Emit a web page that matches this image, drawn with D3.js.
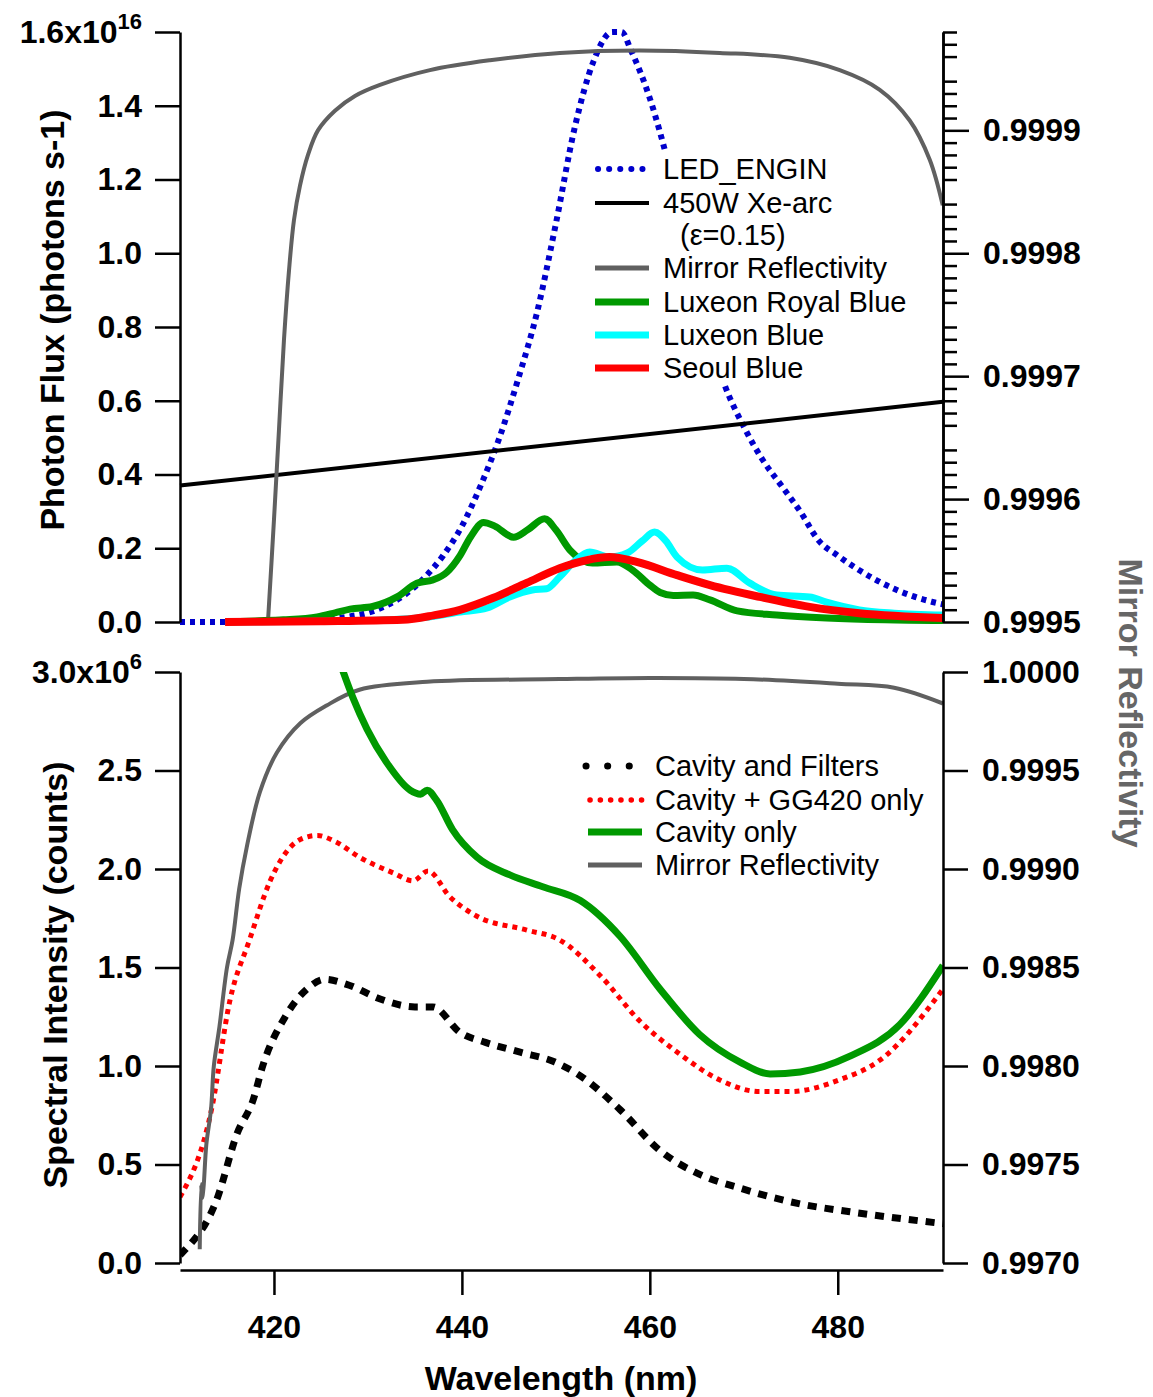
<!DOCTYPE html>
<html>
<head>
<meta charset="utf-8">
<script src="https://cdn.jsdelivr.net/npm/d3@7"></script>
<style>
  body { margin: 0; background: #fff; }
  svg text { font-family: "Liberation Sans", Arial, sans-serif; }
</style>
</head>
<body>
<div id="chart"></div>
<script>
// ---- top panel: photon flux (x1e16) ----
const ledWl   = [410, 420, 425, 428, 430, 432, 434, 436, 438, 440, 442, 444, 446, 448, 450, 452, 454, 456, 457, 458, 460, 462, 464, 466, 468, 470, 472, 474, 476, 478, 480, 482, 484, 486, 488, 490, 491.2];
const ledFlux = [0, 0, 0.005, 0.015, 0.025, 0.045, 0.075, 0.12, 0.18, 0.26, 0.37, 0.5, 0.66, 0.84, 1.08, 1.34, 1.52, 1.6, 1.6, 1.55, 1.42, 1.24, 1.02, 0.8, 0.64, 0.53, 0.44, 0.37, 0.3, 0.22, 0.18, 0.145, 0.115, 0.09, 0.07, 0.055, 0.048];

const xeWl   = [410, 491.2];
const xeFlux = [0.37, 0.597];

const mirTopWl = [419.36, 420.0, 420.53, 421.06, 421.6, 422.13, 422.77, 423.62, 424.68, 426.49, 428.62, 431.28, 436.6, 442.98, 450.43, 458.94, 467.45, 474.89, 480.21, 484.47, 487.66, 489.79, 491.17];
const mirTopR  = [0.9995, 0.999583, 0.999656, 0.999729, 0.999786, 0.999827, 0.999855, 0.99988, 0.9999, 0.999916, 0.999928, 0.999937, 0.999949, 0.999957, 0.999963, 0.999965, 0.999963, 0.999959, 0.999949, 0.999933, 0.999908, 0.999876, 0.999839];

const royalWl   = [414.8, 418, 421, 424.6, 426.5, 428.1, 430.5, 433.1, 435.2, 436.9, 438.4, 439.8, 440.9, 442.3, 443.5, 445.5, 447, 448.8, 450, 451.5, 453.9, 456.5, 458.2, 460, 461.1, 462.5, 464.6, 466.4, 469.3, 473.5, 478.8, 485, 491.2];
const royalFlux = [0, 0.003, 0.006, 0.014, 0.025, 0.035, 0.042, 0.068, 0.105, 0.114, 0.135, 0.18, 0.23, 0.27, 0.26, 0.23, 0.25, 0.28, 0.25, 0.195, 0.16, 0.163, 0.14, 0.1, 0.08, 0.072, 0.073, 0.06, 0.03, 0.019, 0.011, 0.006, 0.004];

const luxWl   = [414.8, 425, 432, 436, 439.8, 442.7, 445.1, 447.5, 449, 450.4, 452, 453.6, 455.7, 457.6, 459.2, 460.5, 461.7, 462.9, 465.6, 468.2, 470.6, 473.5, 477, 478.8, 482.3, 486, 491.2];
const luxFlux = [0, 0.002, 0.006, 0.012, 0.027, 0.038, 0.068, 0.087, 0.09, 0.122, 0.165, 0.19, 0.176, 0.187, 0.22, 0.244, 0.22, 0.176, 0.141, 0.146, 0.106, 0.073, 0.068, 0.054, 0.033, 0.024, 0.019];

const seoulWl   = [414.8, 425, 433.7, 437, 439.8, 443.3, 446.9, 450.4, 453.3, 455.7, 458.6, 462.9, 466.4, 471.7, 477, 482.3, 491.2];
const seoulFlux = [0, 0.002, 0.006, 0.018, 0.033, 0.065, 0.106, 0.146, 0.168, 0.176, 0.163, 0.127, 0.1, 0.068, 0.041, 0.024, 0.011];

// ---- bottom panel: spectral intensity (x1e6) ----
const filtWl  = [410, 410.2, 413.9, 416.1, 417.8, 418.8, 421.2, 423.5, 425.4, 428, 431.3, 435, 436.9, 439.8, 442.5, 446.2, 449.9, 452.6, 456.8, 461.1, 465.3, 469.6, 476, 481.3, 491.2];
const filtCnt = [0.04, 0.05, 0.32, 0.66, 0.83, 1.0, 1.25, 1.39, 1.44, 1.41, 1.34, 1.3, 1.3, 1.17, 1.12, 1.07, 1.02, 0.95, 0.78, 0.57, 0.45, 0.38, 0.3, 0.26, 0.2];

const gg420Wl  = [410, 413.4, 415.3, 417.4, 419.6, 422.8, 424.6, 426.5, 429.1, 432.7, 434.8, 436.4, 438.7, 441.6, 446.9, 450.4, 454.7, 458.9, 463.2, 467.4, 471.7, 474.9, 480.2, 484.5, 491.2];
const gg420Cnt = [0.335, 0.79, 1.33, 1.64, 1.94, 2.15, 2.17, 2.14, 2.06, 1.98, 1.94, 1.99, 1.86, 1.76, 1.69, 1.64, 1.46, 1.23, 1.06, 0.93, 0.87, 0.87, 0.93, 1.03, 1.39];

const cavWl  = [427.0, 428.4, 429.9, 432, 434.5, 435.6, 436.3, 437.3, 439, 441.6, 445.1, 448.6, 452.6, 456.8, 461.1, 465.3, 469.6, 472.8, 476, 481.3, 486.6, 491.2];
const cavCnt = [3.05, 2.87, 2.71, 2.54, 2.4, 2.38, 2.4, 2.35, 2.2, 2.06, 1.97, 1.91, 1.84, 1.66, 1.39, 1.16, 1.02, 0.96, 0.97, 1.05, 1.21, 1.51];

const mirBotWl = [412.1, 412.25, 412.35, 412.5, 412.8, 413.3, 413.6, 414.2, 415.0, 415.6, 416.3, 417.1, 418.5, 420.3, 422.8, 425.6, 429.1, 436.3, 450.4, 460, 470, 480, 486, 491.2];
const mirBotR  = [0.99707, 0.9974, 0.99733, 0.99738, 0.9976, 0.99778, 0.998, 0.9982, 0.9985, 0.99864, 0.9989, 0.99911, 0.99939, 0.99959, 0.99974, 0.99983, 0.99991, 0.99995, 0.999964, 0.99997, 0.999965, 0.99994, 0.99992, 0.99984];

const xTicks = [420, 440, 460, 480];
const topLeftTicks = [0, 0.2, 0.4, 0.6, 0.8, 1.0, 1.2, 1.4, 1.6];
const botLeftTicks = [0, 0.5, 1.0, 1.5, 2.0, 2.5, 3.0];
const botRightTicks = [0.997, 0.9975, 0.998, 0.9985, 0.999, 0.9995, 1.0];

const topLegend = ["LED_ENGIN", "450W Xe-arc", "Mirror Reflectivity", "Luxeon Royal Blue", "Luxeon Blue", "Seoul Blue"];
const botLegend = ["Cavity and Filters", "Cavity + GG420 only", "Cavity only", "Mirror Reflectivity"];

const svg = d3.select("#chart").append("svg")
    .attr("width", 1153).attr("height", 1397);

const x = d3.scaleLinear().domain([410, 491.2]).range([180, 943]);
const yTop = d3.scaleLinear().domain([0, 1.6]).range([622, 32]);
const yTopR = d3.scaleLinear().domain([0.9995, 0.99998]).range([622, 32]);
const yBot = d3.scaleLinear().domain([0, 3]).range([1263, 672]);
const yBotR = d3.scaleLinear().domain([0.997, 1.0]).range([1263, 672]);

const zip = (a, b) => a.map((v, i) => [v, b[i]]);

svg.append("clipPath").attr("id", "clipBot")
    .append("rect").attr("x", 180).attr("y", 672).attr("width", 763).attr("height", 591);

const GRAY = "#606060", GREEN = "#009900", BLUE = "#0000cc";

function drawLine(g, data, ys, style) {
    const line = d3.line().x(d => x(d[0])).y(d => ys(d[1]))
        .curve(style.smooth ? d3.curveCatmullRom.alpha(0.5) : d3.curveMonotoneX);
    g.append("path").datum(data)
        .attr("d", line)
        .attr("fill", "none")
        .attr("stroke", style.color)
        .attr("stroke-width", style.width)
        .attr("stroke-dasharray", style.dash || null)
        .attr("stroke-linejoin", "round");
}

// top panel lines
const gTop = svg.append("g");
drawLine(gTop, zip(ledWl, ledFlux), yTop, { color: BLUE, width: 6, dash: "5,5" });
drawLine(gTop, zip(xeWl, xeFlux), yTop, { color: "#000", width: 4 });
drawLine(gTop, zip(mirTopWl, mirTopR), yTopR, { color: GRAY, width: 4, smooth: true });
drawLine(gTop, zip(royalWl, royalFlux), yTop, { color: GREEN, width: 7 });
drawLine(gTop, zip(luxWl, luxFlux), yTop, { color: "#00ffff", width: 7 });
drawLine(gTop, zip(seoulWl, seoulFlux), yTop, { color: "#ff0000", width: 8 });

// bottom panel lines
const gBot = svg.append("g").attr("clip-path", "url(#clipBot)");
drawLine(gBot, zip(filtWl, filtCnt), yBot, { color: "#000", width: 7, dash: "9,8" });
drawLine(gBot, zip(gg420Wl, gg420Cnt), yBot, { color: "#ff0000", width: 5, dash: "5,5" });
drawLine(gBot, zip(mirBotWl, mirBotR), yBotR, { color: GRAY, width: 4, smooth: true });
drawLine(gBot, zip(cavWl, cavCnt), yBot, { color: GREEN, width: 7 });

// axes
function styleAxis(g) {
    g.selectAll("path.domain").attr("stroke-width", 2.5);
    g.selectAll(".tick line").attr("stroke-width", 2.5);
    g.selectAll("text").attr("font-size", 32).attr("font-weight", "bold").attr("fill", "#000");
}

function addSuper(g, value, base, sup) {
    g.selectAll(".tick").filter(d => Math.abs(d - value) < 1e-9).select("text")
        .text(null)
        .call(t => {
            t.append("tspan").text(base);
            t.append("tspan").attr("font-size", 22).attr("dy", -14).text(sup);
        });
}

const fmt1 = d3.format(".1f");

const axTopL = svg.append("g").attr("transform", "translate(180,0)")
    .call(d3.axisLeft(yTop).tickValues(topLeftTicks).tickSize(25).tickSizeOuter(0).tickPadding(13).tickFormat(fmt1));
styleAxis(axTopL);
addSuper(axTopL, 1.6, "1.6x10", "16");

const axBotL = svg.append("g").attr("transform", "translate(180,0)")
    .call(d3.axisLeft(yBot).tickValues(botLeftTicks).tickSize(25).tickSizeOuter(0).tickPadding(13).tickFormat(fmt1));
styleAxis(axBotL);
addSuper(axBotL, 3.0, "3.0x10", "6");

// right top axis with minor ticks
const minorVals = d3.range(0, 49).map(i => (99950 + i) / 100000);
const axTopRMinor = svg.append("g").attr("transform", "translate(943,0)")
    .call(d3.axisRight(yTopR).tickValues(minorVals.filter((v, i) => i % 5 !== 0)).tickSize(14).tickSizeOuter(0).tickFormat(""));
styleAxis(axTopRMinor);
axTopRMinor.selectAll(".tick").filter((d, i) => Math.round(d * 100000) % 10 === 5)
    .select("line").attr("x2", 20);
const axTopR = svg.append("g").attr("transform", "translate(943,0)")
    .call(d3.axisRight(yTopR).tickValues([0.9995, 0.9996, 0.9997, 0.9998, 0.9999]).tickSize(26).tickSizeOuter(0).tickPadding(14).tickFormat(d3.format(".4f")));
styleAxis(axTopR);

const axBotR = svg.append("g").attr("transform", "translate(943,0)")
    .call(d3.axisRight(yBotR).tickValues(botRightTicks).tickSize(25).tickSizeOuter(0).tickPadding(14).tickFormat(d3.format(".4f")));
styleAxis(axBotR);

const axX = svg.append("g").attr("transform", "translate(0,1270)")
    .call(d3.axisBottom(x).tickValues(xTicks).tickSize(25).tickSizeOuter(0).tickPadding(20).tickFormat(d3.format("d")));
styleAxis(axX);

// axis titles
svg.append("text").attr("transform", "translate(52,320) rotate(-90)")
    .attr("text-anchor", "middle").attr("dy", "0.35em")
    .attr("font-size", 34).attr("font-weight", "bold")
    .text("Photon Flux (photons s-1)");
svg.append("text").attr("transform", "translate(55,975) rotate(-90)")
    .attr("text-anchor", "middle").attr("dy", "0.35em")
    .attr("font-size", 34).attr("font-weight", "bold")
    .text("Spectral Intensity (counts)");
svg.append("text").attr("transform", "translate(1131,703) rotate(90)")
    .attr("text-anchor", "middle").attr("dy", "0.35em")
    .attr("font-size", 34).attr("font-weight", "bold").attr("fill", "#666")
    .text("Mirror Reflectivity");
svg.append("text").attr("x", 561).attr("y", 1390)
    .attr("text-anchor", "middle")
    .attr("font-size", 34).attr("font-weight", "bold")
    .text("Wavelength (nm)");

// legends (white box hides the lines behind it)
const topStyles = [
    { color: BLUE, width: 6, dash: "0.1,11", cap: "round" },
    { color: "#000", width: 4 },
    { color: GRAY, width: 5 },
    { color: GREEN, width: 7 },
    { color: "#00ffff", width: 7 },
    { color: "#ff0000", width: 7 }
];
const topRows = [169, 203, 268, 302, 335, 368];
const legTop = svg.append("g");
legTop.append("rect").attr("x", 586).attr("y", 150).attr("width", 330).attr("height", 235).attr("fill", "#fff");
topLegend.forEach((name, i) => {
    const s = topStyles[i];
    legTop.append("line").attr("x1", i === 0 ? 598 : 595).attr("x2", 649)
        .attr("y1", topRows[i]).attr("y2", topRows[i])
        .attr("stroke", s.color).attr("stroke-width", s.width)
        .attr("stroke-dasharray", s.dash || null).attr("stroke-linecap", s.cap || "butt");
    legTop.append("text").attr("x", 663).attr("y", topRows[i]).attr("dy", "0.35em")
        .attr("font-size", 29).text(name);
});
legTop.append("text").attr("x", 680).attr("y", 235).attr("dy", "0.35em")
    .attr("font-size", 29).text("(\u03b5=0.15)");

const botStyles = [
    { color: "#000", width: 7, dash: "0.1,21.5", cap: "round", x1: 586 },
    { color: "#ff0000", width: 5.5, dash: "0.1,10.2", cap: "round", x1: 590 },
    { color: GREEN, width: 7, x1: 588 },
    { color: GRAY, width: 5, x1: 588 }
];
const botRows = [766, 800, 832, 865];
const legBot = svg.append("g");
botLegend.forEach((name, i) => {
    const s = botStyles[i];
    legBot.append("line").attr("x1", s.x1).attr("x2", 642)
        .attr("y1", botRows[i]).attr("y2", botRows[i])
        .attr("stroke", s.color).attr("stroke-width", s.width)
        .attr("stroke-dasharray", s.dash || null).attr("stroke-linecap", s.cap || "butt");
    legBot.append("text").attr("x", 655).attr("y", botRows[i]).attr("dy", "0.35em")
        .attr("font-size", 29).text(name);
});
</script>
</body>
</html>
